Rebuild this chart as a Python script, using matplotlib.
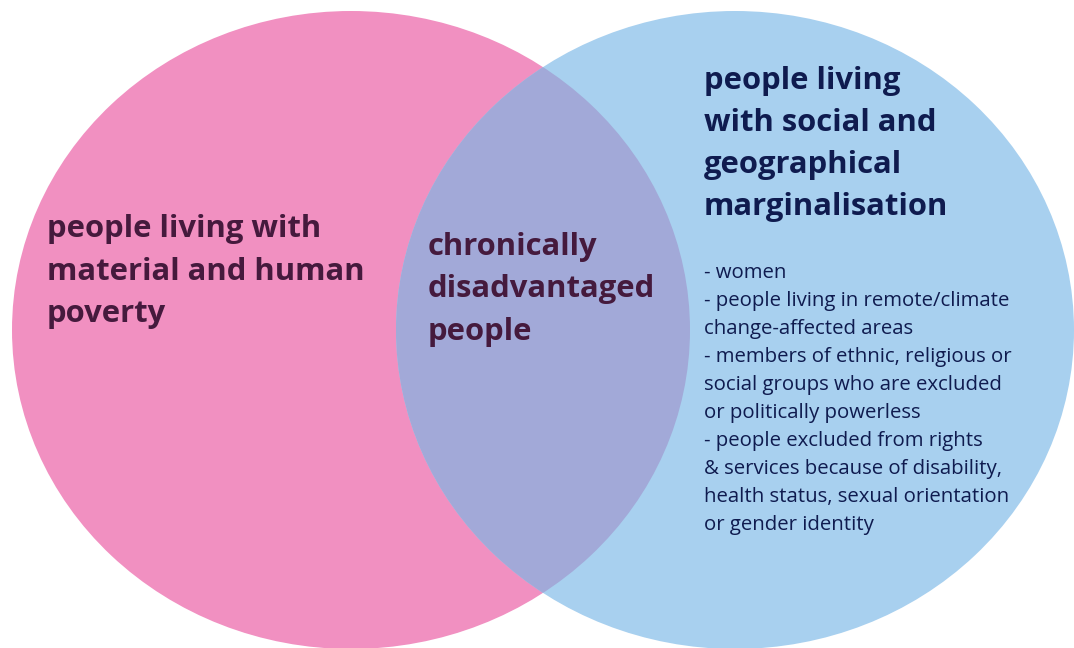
import matplotlib
matplotlib.use("Agg")
import matplotlib.pyplot as plt
from matplotlib.patches import Ellipse

# text of the diagram
left_title = ["people living with", "material and human", "poverty"]
middle_title = ["chronically", "disadvantaged", "people"]
right_title = ["people living", "with social and", "geographical", "marginalisation"]
right_items = [
    "- women",
    "- people living in remote/climate",
    "change-affected areas",
    "- members of ethnic, religious or",
    "social groups who are excluded",
    "or politically powerless",
    "- people excluded from rights",
    "& services because of disability,",
    "health status, sexual orientation",
    "or gender identity",
]

pink = "#f190c1"
blue = "#a8d0ef"
overlap = "#a2a9d8"
plum = "#451a3d"
navy = "#0f1b4f"

plt.rcParams['font.family'] = ['Open Sans', 'DejaVu Sans']

fig = plt.figure(figsize=(10.74, 6.48), dpi=100)
ax = fig.add_axes([0, 0, 1, 1])
ax.set_xlim(0, 1074)
ax.set_ylim(648, 0)
ax.axis("off")

w, h = 678, 638
left = Ellipse((351, 330), w, h, facecolor=pink, edgecolor="none")
right = Ellipse((735, 330), w, h, facecolor=blue, edgecolor="none")
ax.add_patch(left)
ax.add_patch(right)
mid = Ellipse((351, 330), w, h, facecolor=overlap, edgecolor="none")
ax.add_patch(mid)
mid.set_clip_path(right)

def block(lines, x, y0, step, size, color, weight):
    for i, s in enumerate(lines):
        ax.text(x, y0 + i * step, s, fontsize=size, color=color,
                fontweight=weight, ha="left", va="baseline")

block(left_title, 47, 237, 42.5, 22.3, plum, "bold")
block(middle_title, 428, 255, 42.5, 22.3, plum, "bold")
block(right_title, 704, 89, 42, 22.3, navy, "bold")
block(right_items, 704, 278, 28.0, 14.7, navy, "normal")

fig.savefig("out.png", dpi=100)
